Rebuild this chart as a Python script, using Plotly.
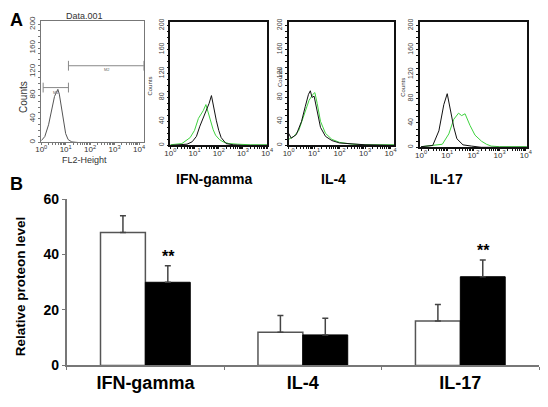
import plotly.graph_objects as go

# ---------------- Data ----------------
# Panel A: flow cytometry histograms (fluorescence, counts)
iso_x = [1, 1.4, 2, 2.8, 3.5, 4.2, 4.8, 5.5, 6.6, 7.9, 10, 12.6, 17.8, 32, 100, 1000, 15000]
iso_y = [3, 10, 30, 60, 78, 85, 90, 82, 60, 35, 15, 5, 1, 0, 0, 0, 0]

ifn_black_x = [1, 3, 4.9, 8, 12, 16.6, 25, 32, 40, 50, 63, 79, 100, 126, 200, 400, 1000, 10000]
ifn_black_y = [0, 1, 2, 6, 15, 32, 50, 58, 70, 83, 60, 42, 25, 13, 3, 1, 0, 0]
ifn_green_x = [1, 1.9, 3, 6.6, 10, 14.5, 19, 23, 29.5, 36, 47, 59, 74, 105, 150, 263, 600, 2000, 10000]
ifn_green_y = [1, 2, 3, 13, 25, 45, 52, 58, 68, 56, 40, 26, 17, 10, 6, 3, 2, 1, 1]

il4_black_x = [1, 1.26, 2, 3.2, 4.5, 6, 7.1, 8.3, 10, 12.6, 17.8, 28, 50, 100, 316, 1000, 14000]
il4_black_y = [20, 12, 18, 40, 65, 85, 91, 80, 82, 60, 30, 15, 8, 4, 2, 1, 0]
il4_green_x = [1, 1.6, 2.5, 4, 6.3, 8.9, 10.7, 13.2, 17.8, 28, 50, 100, 316, 1000, 14000]
il4_green_y = [10, 15, 25, 50, 75, 85, 88, 70, 40, 20, 10, 5, 2, 1, 1]

il17_black_x = [1, 2.8, 4.8, 7.4, 10, 13.2, 17.8, 23.4, 40, 85, 200, 11000]
il17_black_y = [1, 3, 27, 70, 88, 59, 33, 14, 4, 2, 0, 0]
il17_green_x = [1, 1.55, 4, 6.5, 11.5, 17.8, 27, 35.5, 48, 74, 115, 204, 316, 480, 1000, 11000]
il17_green_y = [1, 2, 4, 5, 22, 46, 56, 52, 55, 36, 20, 10, 5, 2, 1, 1]

gate_m1_x = [1.2, 13]
gate_m1_y = [93, 93]
gate_m2_x = [13, 15800]
gate_m2_y = [130, 130]

hist_tickvals = [1, 10, 100, 1000, 10000]
hist_ticktext = ["10<sup>0</sup>", "10<sup>1</sup>", "10<sup>2</sup>", "10<sup>3</sup>", "10<sup>4</sup>"]
count_ticks = [0, 40, 80, 120, 160, 200]

# Panel B: relative protein level
categories = ["IFN-gamma", "IL-4", "IL-17"]
white_vals = [48, 12, 16]
white_err = [6, 6, 6]
black_vals = [30, 11, 32]
black_err = [6, 6, 6]
black_sig = ["**", "", "**"]
bar_ticks = [0, 20, 40, 60]

FONT = "Liberation Sans, Arial, sans-serif"
GREEN = "#3fd23f"

fig = go.Figure()

def P(xp, yp):
    return xp / 548.0, 1 - yp / 407.0

# panel domains (pixels)
panels = [
    dict(x=(36, 141), y=(14, 140), rng=[0, 4.2], col="#777", fs=8),
    dict(x=(168, 267), y=(15, 143), rng=[0, 4.0], col="#111", fs=7),
    dict(x=(289, 397), y=(15, 143), rng=[0, 4.15], col="#111", fs=7),
    dict(x=(423, 533), y=(15, 145), rng=[-0.05, 4.06], col="#111", fs=7),
]

minor_vals = [m * 10 ** d for d in range(0, 5) for m in range(2, 10)]

for i, p in enumerate(panels, start=1):
    xd = [p["x"][0] / 548.0, p["x"][1] / 548.0]
    yd = [1 - p["y"][1] / 407.0, 1 - p["y"][0] / 407.0]
    xa = dict(domain=xd, type="log", range=p["rng"], anchor="y%d" % i,
              showline=True, linecolor=p["col"], linewidth=1 if i == 1 else 1.5, mirror=True,
              showgrid=False, zeroline=False, ticks="outside", ticklen=2, tickcolor=p["col"],
              tickvals=hist_tickvals, ticktext=hist_ticktext, ticklabelstandoff=-3,
              tickfont=dict(family=FONT, size=8, color="#333"),
              minor=dict(tickvals=minor_vals, ticks="outside", ticklen=2, tickcolor=p["col"]))
    ya = dict(domain=yd, range=[0, 205], anchor="x%d" % i,
              showline=True, linecolor=p["col"], linewidth=1 if i == 1 else 1.5, mirror=True,
              showgrid=False, zeroline=False, ticks="outside", ticklen=2, tickcolor=p["col"],
              tickvals=count_ticks, tickangle=-90, ticklabelstandoff=0,
              tickfont=dict(family=FONT, size=p["fs"], color="#444"),
              minor=dict(dtick=10, ticks="outside", ticklen=2, tickcolor=p["col"]))
    fig.layout["xaxis%d" % i if i > 1 else "xaxis"] = xa
    fig.layout["yaxis%d" % i if i > 1 else "yaxis"] = ya

def add_line(x, y, i, color, width=1.0):
    fig.add_trace(go.Scatter(x=x, y=y, mode="lines", line=dict(color=color, width=width),
                             xaxis="x%d" % i if i > 1 else "x", yaxis="y%d" % i if i > 1 else "y",
                             hoverinfo="skip"))

add_line(iso_x, iso_y, 1, "#555")
for gx, gy in [(gate_m1_x, gate_m1_y), (gate_m2_x, gate_m2_y)]:
    fig.add_trace(go.Scatter(x=gx, y=gy, mode="lines+markers", xaxis="x", yaxis="y",
                             line=dict(color="#888", width=1),
                             marker=dict(symbol="line-ns-open", size=7, line=dict(color="#888", width=1)),
                             hoverinfo="skip"))
add_line(ifn_green_x, ifn_green_y, 2, GREEN)
add_line(ifn_black_x, ifn_black_y, 2, "#111")
add_line(il4_green_x, il4_green_y, 3, GREEN)
add_line(il4_black_x, il4_black_y, 3, "#111")
add_line(il17_green_x, il17_green_y, 4, GREEN)
add_line(il17_black_x, il17_black_y, 4, "#111")

# ---------------- Panel B ----------------
fig.add_trace(go.Bar(x=categories, y=white_vals, xaxis="x5", yaxis="y5",
                     marker=dict(color="white", line=dict(color="#555", width=1.5)),
                     error_y=dict(type="data", array=white_err, arrayminus=[0] * 3, symmetric=False,
                                  color="#444", thickness=1.5, width=3)))
fig.add_trace(go.Bar(x=categories, y=black_vals, xaxis="x5", yaxis="y5",
                     marker=dict(color="black", line=dict(color="black", width=1)),
                     error_y=dict(type="data", array=black_err, arrayminus=[0] * 3, symmetric=False,
                                  color="#444", thickness=1.5, width=3)))

fig.layout.xaxis5 = dict(domain=[62 / 548.0, 545 / 548.0], anchor="y5", type="category",
                         tickson="boundaries", ticks="outside", ticklen=3, tickcolor="#777",
                         showline=True, linecolor="#777", linewidth=1.5, showgrid=False,
                         tickfont=dict(family=FONT, size=18, color="black", weight="bold"))
fig.layout.yaxis5 = dict(domain=[1 - 372 / 407.0, 1 - 199 / 407.0], anchor="x5", range=[0, 60],
                         tickvals=bar_ticks, ticks="outside", ticklen=3, tickcolor="#777",
                         showline=True, linecolor="#777", linewidth=1.5, showgrid=False, zeroline=False,
                         tickfont=dict(family=FONT, size=14, color="black", weight="bold"))

annotations = []
for c, v, e, s in zip(categories, black_vals, black_err, black_sig):
    if s:
        annotations.append(dict(x=c, y=v + e, xref="x5", yref="y5", xshift=23, yshift=-1,
                                text=s, showarrow=False, yanchor="bottom",
                                font=dict(family=FONT, size=16, color="black", weight="bold")))

def txt(text, xp, yp, size, bold=False, angle=0, color="black"):
    x, y = P(xp, yp)
    annotations.append(dict(x=x, y=y, xref="paper", yref="paper", text=text, showarrow=False,
                            textangle=angle, xanchor="center", yanchor="middle",
                            font=dict(family=FONT, size=size, color=color,
                                      weight="bold" if bold else "normal")))

txt("A", 11, 12, 18, bold=True)
txt("B", 11, 183, 18, bold=True)
txt("Data.001", 80, 8, 9, color="#333")
txt("FL2-Height", 80, 158, 9, color="#333")
txt("Counts", 18, 93, 10, angle=-90, color="#333")
txt("M1", 51, 88, 4, color="#666")
txt("M2", 103, 64, 4, color="#666")
txt("Counts", 147, 81, 6, angle=-90, color="#333")
txt("Counts", 280, 72, 6, angle=-90, color="#333")
txt("Counts", 406, 83, 6, angle=-90, color="#333")
txt("IFN-gamma", 213, 178, 14, bold=True)
txt("IL-4", 335, 178, 14, bold=True)
txt("IL-17", 450, 178, 14, bold=True)
txt("Relative proteon level", 15, 290, 13.5, bold=True, angle=-90)

fig.update_layout(width=548, height=407, margin=dict(l=0, r=0, t=0, b=0),
                  paper_bgcolor="white", plot_bgcolor="white", showlegend=False,
                  barmode="group", bargap=0.43, bargroupgap=0,
                  annotations=annotations, font=dict(family=FONT))

fig.write_html("out.html", config={"displayModeBar": False},
               post_script="document.body.style.margin='0';")
